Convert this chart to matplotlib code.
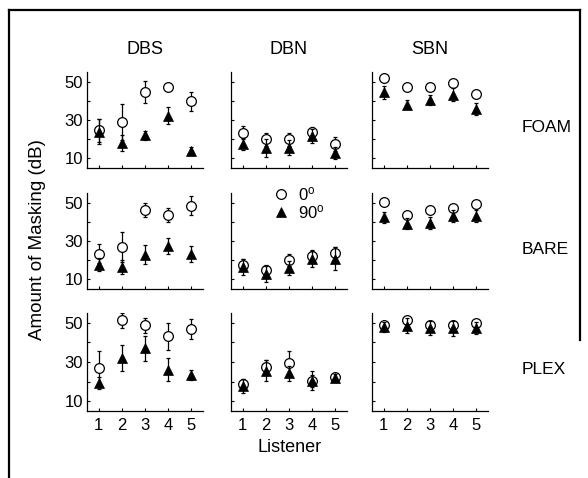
import matplotlib
matplotlib.use("Agg")
import matplotlib.pyplot as plt
from matplotlib.lines import Line2D
import numpy as np

plt.rcParams['font.family'] = ['Liberation Sans', 'DejaVu Sans']
plt.rcParams['mathtext.fontset'] = 'custom'
plt.rcParams['mathtext.rm'] = 'Liberation Sans'
plt.rcParams['mathtext.it'] = 'Liberation Sans'

listeners = [1, 2, 3, 4, 5]
maskers = ["DBS", "DBN", "SBN"]
conditions = ["FOAM", "BARE", "PLEX"]
yticks = [10, 20, 30, 40, 50]
yticklabels = ["10", "", "30", "", "50"]

# 0 degree (open circles): [condition][masker] -> values per listener
m0 = {
    "FOAM": {"DBS": [24.7, 28.9, 44.6, 47.2, 39.8],
             "DBN": [23.4, 19.9, 19.9, 23.7, 17.6],
             "SBN": [51.9, 47.2, 47.2, 49.3, 43.8]},
    "BARE": {"DBS": [23.3, 27.0, 46.1, 43.6, 48.3],
             "DBN": [17.7, 15.1, 20.2, 22.4, 23.6],
             "SBN": [50.5, 43.6, 45.9, 47.4, 49.2]},
    "PLEX": {"DBS": [26.8, 51.2, 48.8, 43.1, 46.9],
             "DBN": [18.8, 27.3, 29.7, 20.5, 22.2],
             "SBN": [49.1, 51.3, 49.1, 48.8, 50.0]},
}
e0 = {
    "FOAM": {"DBS": [6.0, 9.5, 5.7, 1.5, 5.0],
             "DBN": [3.4, 3.5, 3.5, 2.5, 3.7],
             "SBN": [1.5, 1.5, 1.5, 1.5, 1.5]},
    "BARE": {"DBS": [5.0, 7.7, 3.8, 3.5, 5.0],
             "DBN": [3.0, 2.5, 3.0, 3.0, 3.5],
             "SBN": [1.5, 1.5, 1.5, 1.5, 1.5]},
    "PLEX": {"DBS": [8.6, 3.9, 3.8, 6.9, 5.1],
             "DBN": [2.5, 3.5, 5.7, 3.0, 2.0],
             "SBN": [1.5, 1.5, 1.5, 1.5, 1.5]},
}
# 90 degree (filled triangles)
m90 = {
    "FOAM": {"DBS": [24.0, 18.1, 22.0, 32.3, 13.8],
             "DBN": [17.6, 15.6, 15.6, 21.6, 12.9],
             "SBN": [44.4, 38.0, 40.3, 43.2, 35.8]},
    "BARE": {"DBS": [17.7, 16.3, 22.8, 27.4, 23.3],
             "DBN": [16.5, 12.6, 16.0, 20.7, 20.7],
             "SBN": [42.3, 39.0, 39.3, 42.9, 42.9]},
    "PLEX": {"DBS": [19.4, 32.0, 37.1, 26.0, 23.4],
             "DBN": [17.7, 25.6, 24.3, 20.5, 21.7],
             "SBN": [47.7, 48.6, 47.4, 47.1, 47.4]},
}
e90 = {
    "FOAM": {"DBS": [6.5, 4.2, 2.5, 4.3, 2.0],
             "DBN": [3.0, 4.7, 4.0, 3.5, 3.1],
             "SBN": [3.4, 2.5, 2.5, 3.4, 3.0]},
    "BARE": {"DBS": [3.4, 3.7, 5.0, 4.0, 4.3],
             "DBN": [4.2, 4.2, 3.5, 4.3, 6.0],
             "SBN": [3.0, 3.0, 3.0, 3.0, 3.0]},
    "PLEX": {"DBS": [3.0, 6.8, 6.4, 5.8, 2.7],
             "DBN": [3.7, 5.5, 3.8, 4.7, 2.0],
             "SBN": [2.5, 3.9, 3.5, 4.0, 3.0]},
}

W, H = 588, 478
fig = plt.figure(figsize=(W / 100, H / 100), dpi=100)

col_left = [87, 231, 372]
col_w = 116
row_top = [72, 193, 313]
row_h = [96, 96, 98]

axes = {}
for r, cond in enumerate(conditions):
    for c, mk in enumerate(maskers):
        l = col_left[c] / W
        b = 1 - (row_top[r] + row_h[r]) / H
        ax = fig.add_axes([l, b, col_w / W, row_h[r] / H])
        axes[(cond, mk)] = ax
        ax.errorbar(listeners, m0[cond][mk], yerr=e0[cond][mk], fmt='none',
                    ecolor='black', elinewidth=0.9, capsize=1.2, capthick=0.9, zorder=2)
        h0, = ax.plot(listeners, m0[cond][mk], 'o', ms=7.0, mfc='white',
                      mec='black', mew=0.9, zorder=3, clip_on=False)
        ax.errorbar(listeners, m90[cond][mk], yerr=e90[cond][mk], fmt='none',
                    ecolor='black', elinewidth=0.9, capsize=1.2, capthick=0.9, zorder=4)
        h90, = ax.plot(listeners, m90[cond][mk], '^', ms=7.5, mfc='black',
                       mec='black', mew=0.5, zorder=5, clip_on=False)
        ax.set_xlim(0.5, 5.5)
        ax.set_ylim(5, 55)
        ax.set_xticks(listeners)
        ax.set_yticks(yticks)
        if c == 0:
            ax.set_yticklabels(yticklabels)
        else:
            ax.set_yticklabels([])
        if r == 2:
            ax.set_xticklabels([str(v) for v in listeners])
        else:
            ax.set_xticklabels([])
        for s in ['top', 'right']:
            ax.spines[s].set_visible(False)
        for s in ['left', 'bottom']:
            ax.spines[s].set_linewidth(0.9)
        ax.tick_params(direction='in', length=2.5, width=0.8, labelsize=12,
                       colors='black')
        ax.tick_params(axis='y', pad=3)
        ax.tick_params(axis='x', pad=5)
        ax.patch.set_visible(False)
        if r == 1 and c == 1:
            leg = ax.legend([h0, h90], ['0$^{\\mathrm{o}}$', '90$^{\\mathrm{o}}$'],
                            loc='upper left', bbox_to_anchor=(0.27, 1.17),
                            frameon=False, fontsize=12, handletextpad=0.45,
                            labelspacing=0.0, borderpad=0, handlelength=1.2)

# column titles
for c, mk in enumerate(maskers):
    fig.text((col_left[c] + col_w / 2) / W, 1 - 50 / H, mk, ha='center',
             va='center', fontsize=13)
# row labels
for r, cond in enumerate(conditions):
    fig.text(522 / W, 1 - (row_top[r] + 56) / H, cond, ha='left', va='center',
             fontsize=12.5)

fig.text(38 / W, 1 - 240 / H, "Amount of Masking (dB)", rotation=90,
         ha='center', va='center', fontsize=13.5)
fig.text(290 / W, 1 - 447 / H, "Listener", ha='center', va='center', fontsize=13)

# outer frame
fig.add_artist(Line2D([9 / W, 9 / W], [0, 1 - 10 / H], color='black', lw=1.6,
                      transform=fig.transFigure))
fig.add_artist(Line2D([9 / W, 580 / W], [1 - 10 / H, 1 - 10 / H], color='black',
                      lw=1.6, transform=fig.transFigure))
fig.add_artist(Line2D([580 / W, 580 / W], [1 - 10 / H, 1 - 340 / H], color='black',
                      lw=1.6, transform=fig.transFigure))

fig.savefig("out.png", dpi=100)
